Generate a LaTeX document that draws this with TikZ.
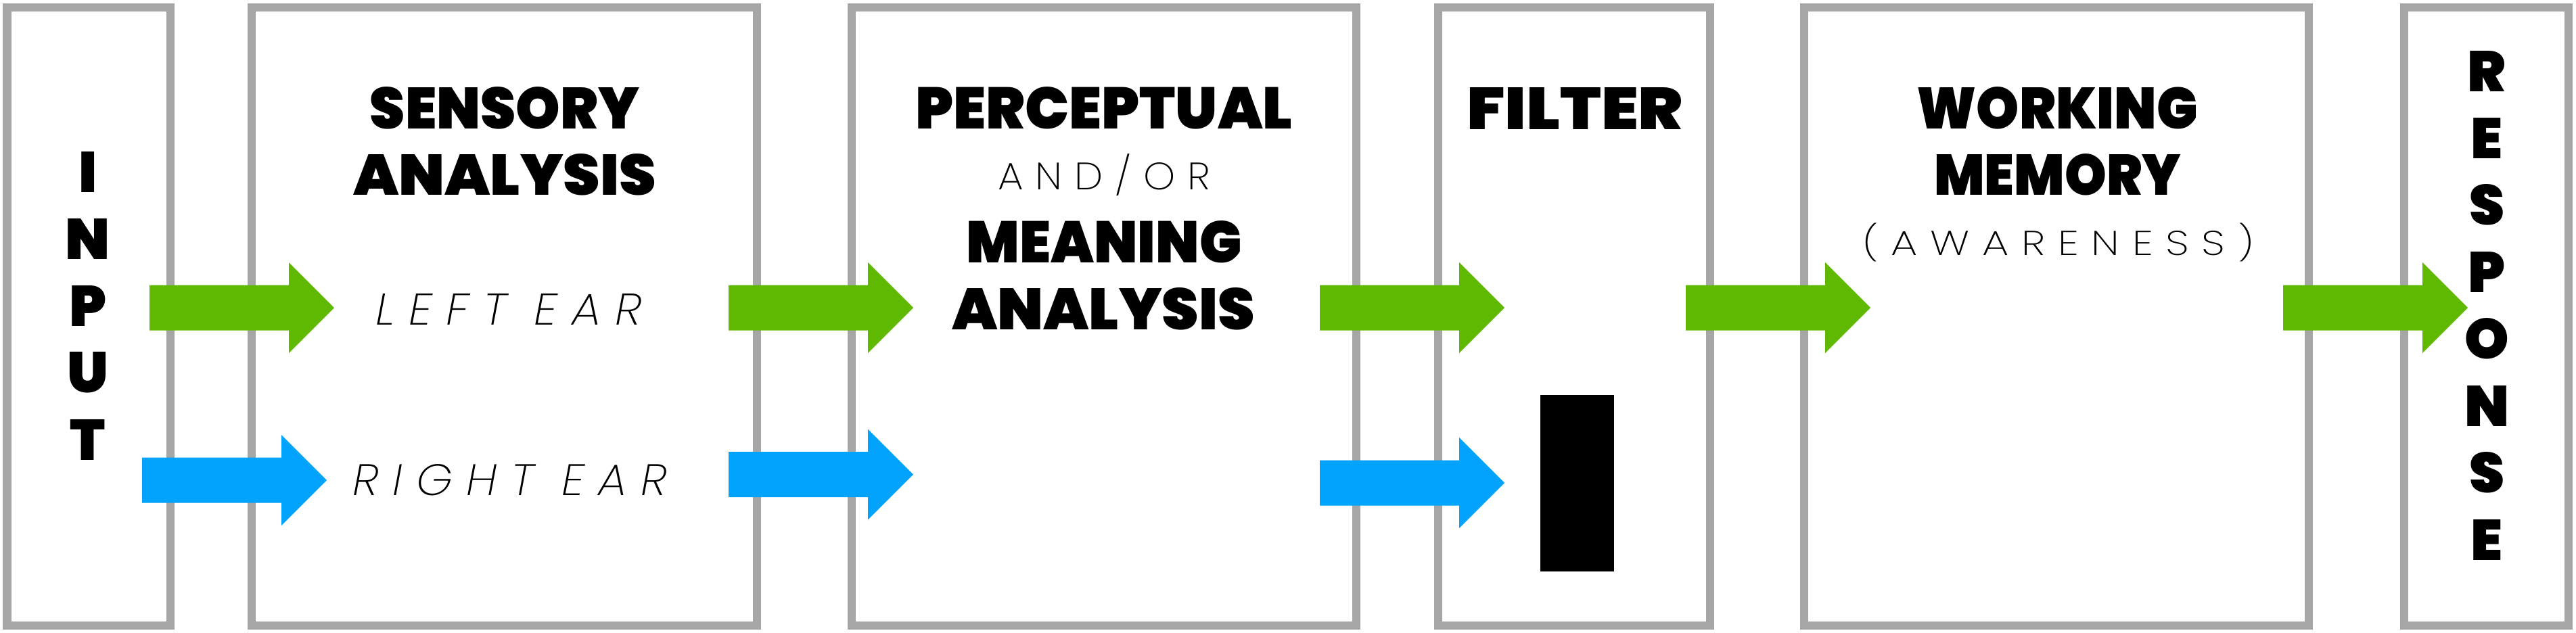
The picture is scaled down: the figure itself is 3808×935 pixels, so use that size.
\documentclass[tikz,border=0pt]{standalone}
\usepackage{fontspec}
\usepackage{graphicx}
\newfontfamily\heavyfont{Poppins Black}
\newfontfamily\thinfont{Poppins ExtraLight}[LetterSpace=30]
\newfontfamily\thinitfont{Poppins ExtraLight Italic}[LetterSpace=30]
\newlength\px \setlength\px{0.25pt}
\definecolor{boxgray}{HTML}{A6A6A6}
\definecolor{argreen}{HTML}{5FB900}
\definecolor{arblue}{HTML}{02A3FD}
\newcommand\hw[3]{\resizebox{#1\px}{#2\px}{\heavyfont #3}}
\newcommand\tw[3]{\resizebox*{#1\px}{#2\px}{\thinfont #3}}
\newcommand\ti[3]{\resizebox{#1\px}{#2\px}{\thinitfont #3}}
\newcommand\vl[1]{\resizebox{!}{60\px}{\heavyfont #1}}
\newcommand\blockarrow[3]{%
  \fill[#3] ([shift={(0,-33.5)}]#1) -- ([shift={(-67,-33.5)}]#2) -- ([shift={(-67,-67)}]#2) -- (#2)
    -- ([shift={(-67,67)}]#2) -- ([shift={(-67,33.5)}]#2) -- ([shift={(0,33.5)}]#1) -- cycle;}
\begin{document}
\begin{tikzpicture}[x=0.25pt,y=-0.25pt,
  box/.style={draw=boxgray, line width=3.125pt, inner sep=0pt, outer sep=0pt, minimum height=228.5pt},
  lbl/.style={inner sep=0pt, outer sep=0pt, anchor=center}]
\fill[white] (0,0) rectangle (3808,935);
\useasboundingbox (0,0) rectangle (3808,935);
% boxes
\node[box, minimum width=60.375pt] (input) at (131,468) {};
\node[box, minimum width=186.75pt] (sensory) at (745.5,468) {};
\node[box, minimum width=186.5pt] (percept) at (1632,468) {};
\node[box, minimum width=100.5pt] (filter) at (2327,468) {};
\node[box, minimum width=186.5pt] (working) at (3040,468) {};
\node[box, minimum width=60.75pt] (response) at (3675.5,468) {};
\node[fill=black, inner sep=0pt, minimum width=27.25pt, minimum height=65.25pt] (block) at (2331.5,714.5) {};
% texts
\node[lbl] (t1) at (746,160) {\hw{398}{62}{SENSORY}};
\node[lbl] (t2) at (746,258.5) {\hw{448}{61}{ANALYSIS}};
\node[lbl] (t3) at (752,457) {\ti{394}{46}{LEFT EAR}};
\node[lbl] (t4) at (754,710) {\ti{464}{46}{RIGHT EAR}};
\node[lbl] (t5) at (1632,160) {\hw{557}{62}{PERCEPTUAL}};
\node[lbl] (t6) at (1632,259) {\tw{314}{62}{AND/OR}};
\node[lbl] (t7) at (1632,358) {\hw{407}{62}{MEANING}};
\node[lbl] (t8) at (1631,457) {\hw{448}{62}{ANALYSIS}};
\node[lbl] (t9) at (2328,160) {\hw{320}{62}{FILTER}};
\node[lbl] (t10) at (3041,160) {\hw{415}{62}{WORKING}};
\node[lbl] (t11) at (3041.5,258.5) {\hw{365}{61}{MEMORY}};
\node[lbl] (t12) at (3042.5,358.5) {\tw{579}{57}{(AWARENESS)}};
% vertical letters
\foreach \l [count=\i] in {I,N,P,U,T} {\node[lbl] (in\i) at (130,155+99*\i) {\vl{\l}};}
\foreach \l [count=\i] in {R,E,S,P,O,N,S,E} {\node[lbl] (re\i) at (3676,6+99*\i) {\vl{\l}};}
% arrows
\coordinate (g1s) at (221,455); \coordinate (g1t) at (494,455);
\coordinate (b1s) at (210,710); \coordinate (b1t) at (483,710);
\coordinate (g2s) at (1077,455); \coordinate (g2t) at (1350,455);
\coordinate (b2s) at (1077,701.5); \coordinate (b2t) at (1350,701.5);
\coordinate (g3s) at (1951,455); \coordinate (g3t) at (2224,455);
\coordinate (b3s) at (1951,714); \coordinate (b3t) at (2224,714);
\coordinate (g4s) at (2492,455); \coordinate (g4t) at (2765,455);
\coordinate (g5s) at (3375,455); \coordinate (g5t) at (3648,455);
\blockarrow{g1s}{g1t}{argreen}
\blockarrow{b1s}{b1t}{arblue}
\blockarrow{g2s}{g2t}{argreen}
\blockarrow{b2s}{b2t}{arblue}
\blockarrow{g3s}{g3t}{argreen}
\blockarrow{b3s}{b3t}{arblue}
\blockarrow{g4s}{g4t}{argreen}
\blockarrow{g5s}{g5t}{argreen}
\end{tikzpicture}
\end{document}
